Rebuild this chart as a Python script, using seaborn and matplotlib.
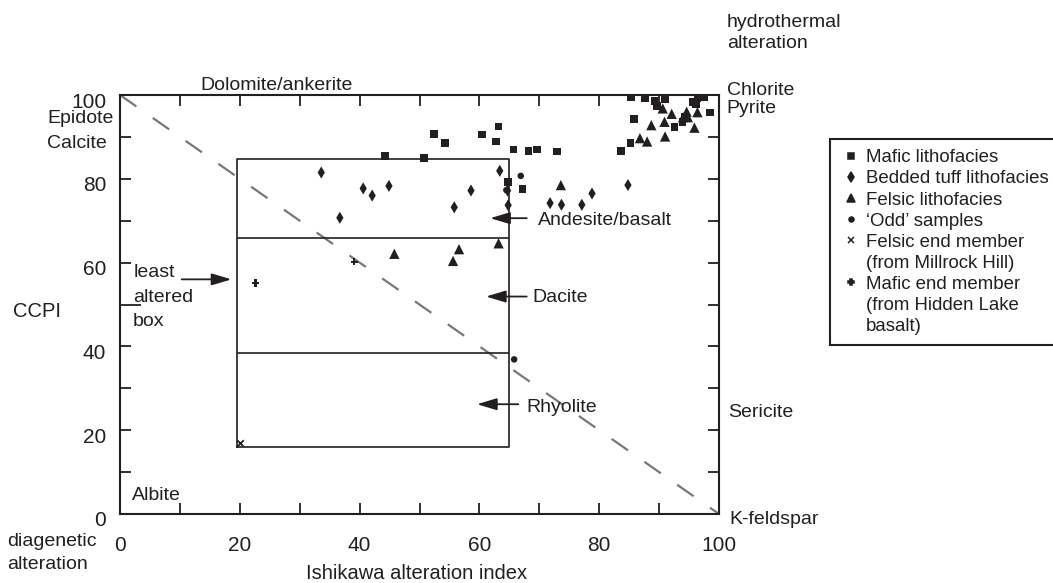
import pandas as pd
import seaborn as sns
import matplotlib.pyplot as plt
from matplotlib.lines import Line2D
from matplotlib.transforms import ScaledTranslation

sns.set_style("ticks")
plt.rcParams['font.family'] = ['Liberation Sans', 'DejaVu Sans']

INK = '#231f20'
GREY = '#77787b'

# Ishikawa alteration index (x) vs CCPI (y)
mafic_x = [85.3, 87.6, 89.2, 91.0, 89.7, 95.6, 96.4, 97.5, 96.2, 98.5, 85.8, 92.6, 93.9, 94.3,
           85.2, 83.6, 73.0, 44.2, 50.8, 52.4, 54.3, 60.4, 63.2, 62.8, 65.7, 68.2, 69.6,
           64.8, 67.2]
mafic_y = [99.4, 99.2, 98.6, 99.0, 97.4, 98.4, 99.2, 99.4, 97.9, 95.8, 94.3, 92.4, 93.6, 94.8,
           88.6, 86.6, 86.5, 85.5, 84.9, 90.7, 88.5, 90.6, 92.5, 88.9, 87.0, 86.7, 87.0,
           79.3, 77.6]

tuff_x = [33.6, 36.7, 40.6, 42.1, 44.9, 55.8, 58.6, 63.4, 64.7, 64.8, 71.8, 73.7, 77.1, 78.8, 84.8]
tuff_y = [81.5, 70.7, 77.7, 76.0, 78.3, 73.2, 77.2, 81.9, 77.2, 73.7, 74.2, 73.8, 73.8, 76.5, 78.5]

felsic_x = [90.6, 92.1, 94.6, 96.4, 94.8, 90.9, 88.7, 95.9, 86.8, 88.0, 91.0, 94.0, 73.6,
            63.2, 56.6, 55.6, 45.8]
felsic_y = [96.8, 95.5, 96.0, 95.9, 94.7, 93.6, 92.8, 92.2, 89.7, 88.9, 90.1, 94.7, 78.5,
            64.6, 63.2, 60.4, 62.1]

odd_x = [66.9, 64.5, 65.8]
odd_y = [80.7, 77.3, 36.9]

felsic_end_x = [20.1]
felsic_end_y = [16.9]

mafic_end_x = [22.6, 39.1]
mafic_end_y = [55.1, 60.2]

# least altered box and its andesite / dacite / rhyolite divisions
box_x = [19.5, 65.0, 65.0, 19.5, 19.5]
box_y = [16.1, 16.1, 84.7, 84.7, 16.1]
box_divisions = [65.8, 38.4]

diag_x = [0, 100]
diag_y = [100, 0]

groups = [
    # label lines, x, y, marker, scatter size, legend markersize
    (["Mafic lithofacies"], mafic_x, mafic_y, 's', 30, 4.8),
    (["Bedded tuff lithofacies"], tuff_x, tuff_y, 'd', 38, 5.0),
    (["Felsic lithofacies"], felsic_x, felsic_y, '^', 55, 5.3),
    (["\u2018Odd\u2019 samples"], odd_x, odd_y, 'o', 22, 3.6),
    (["Felsic end member", "(from Millrock Hill)"], felsic_end_x, felsic_end_y, 'x', 22, 4.3),
    (["Mafic end member", "(from Hidden Lake", "basalt)"], mafic_end_x, mafic_end_y, 'P', 28, 5.0),
]

fig = plt.figure(figsize=(10.53, 5.83), dpi=100)
ax = fig.add_axes([120 / 1053, 69 / 583, 599 / 1053, 419 / 583])

sns.lineplot(x=diag_x, y=diag_y, color=GREY, lw=1.6, linestyle=(0, (9, 9)), ax=ax, zorder=1)

ax.plot(box_x, box_y, color=INK, lw=1.2, zorder=2)
ax.hlines(box_divisions, box_x[0], box_x[1], color=INK, lw=1.2, zorder=2)

handles, labels = [], []
for names, xs, ys, mk, size, leg_ms in groups:
    df = pd.DataFrame({'x': xs, 'y': ys})
    if mk == 'x':
        sns.scatterplot(data=df, x='x', y='y', marker=mk, s=size, color=INK, linewidth=1.3,
                        ax=ax, clip_on=False, zorder=3, legend=False)
    else:
        sns.scatterplot(data=df, x='x', y='y', marker=mk, s=size, color=INK, edgecolor='none',
                        linewidth=0, ax=ax, clip_on=False, zorder=3, legend=False)
    handles.append(Line2D([], [], ls='none', marker=mk, ms=leg_ms, color=INK, mew=1.1))
    labels.append(names[0])
    for extra in names[1:]:
        handles.append(Line2D([], [], ls='none', marker=None))
        labels.append(extra)

ax.set_xlim(0, 100)
ax.set_ylim(0, 100)
ax.set_xticks(range(0, 101, 20))
ax.set_yticks(range(0, 101, 20))
ax.set_xticks(range(10, 100, 20), minor=True)
ax.set_yticks(range(10, 100, 20), minor=True)
ax.tick_params(which='both', direction='in', top=True, right=True, length=8, width=1.3,
               color=INK, labelsize=15, labelcolor=INK)
ax.tick_params(axis='x', pad=16)
ax.tick_params(axis='y', pad=10)
for side in ax.spines.values():
    side.set_linewidth(1.5)
    side.set_color(INK)
# the mid tick on the CCPI axis is drawn a bit longer
ax.yaxis.get_minor_ticks()[2].tick1line.set_markersize(15)
shift = ScaledTranslation(0, -5 / 100, fig.dpi_scale_trans)
for lab in ax.get_yticklabels():
    lab.set_transform(lab.get_transform() + shift)

ax.set_xlabel("Ishikawa alteration index", fontsize=14.5, color=INK)
ax.xaxis.set_label_coords(0.495, -0.138)
ax.xaxis.label.set_va('center_baseline')
ax.set_ylabel("CCPI", fontsize=14.5, color=INK, rotation=0)
ax.yaxis.set_label_coords(-0.139, 0.487)
ax.yaxis.label.set_va('center_baseline')
ax.yaxis.label.set_ha('center')

notes = [
    ("Dolomite/ankerite", 13.4, 102.7),
    ("Epidote", -12.2, 94.9),
    ("Calcite", -12.2, 89.0),
    ("Albite", 2.0, 5.0),
    ("diagenetic", -18.9, -6.2),
    ("alteration", -18.9, -11.5),
    ("K-feldspar", 101.7, -0.9),
    ("hydrothermal", 101.3, 117.8),
    ("alteration", 101.3, 112.8),
    ("Chlorite", 101.3, 101.6),
    ("Pyrite", 101.3, 97.3),
    ("Sericite", 101.5, 24.8),
    ("least", 2.2, 58.1),
    ("altered", 2.2, 52.1),
    ("box", 2.2, 46.4),
    ("Andesite/basalt", 69.8, 70.5),
    ("Dacite", 68.9, 52.1),
    ("Rhyolite", 67.9, 25.9),
]
for txt, tx, ty in notes:
    ax.text(tx, ty, txt, fontsize=14, color=INK, ha='left', va='center_baseline', clip_on=False)

arrows = [
    ((18.6, 56.0), (10.3, 56.0)),
    ((61.8, 70.6), (67.9, 70.6)),
    ((61.1, 51.9), (67.9, 51.9)),
    ((59.6, 26.2), (66.5, 26.2)),
]
for tip, tail in arrows:
    ax.annotate("", xy=tip, xytext=tail, annotation_clip=False,
                arrowprops=dict(arrowstyle='-|>,head_length=0.6,head_width=0.18', color=INK,
                                lw=1.3, shrinkA=0, shrinkB=0, mutation_scale=20))

leg = fig.legend(handles, labels, loc='upper left', bbox_to_anchor=(830 / 1053, 1 - 139 / 583),
                 frameon=True, fancybox=False, edgecolor=INK, framealpha=1, fontsize=13.4,
                 handlelength=1.2, handletextpad=0.2, borderpad=0.55, labelspacing=0.22,
                 borderaxespad=0)
leg.get_frame().set_linewidth(1.5)
for t in leg.get_texts():
    t.set_color(INK)

fig.savefig("out.png", dpi=100)
